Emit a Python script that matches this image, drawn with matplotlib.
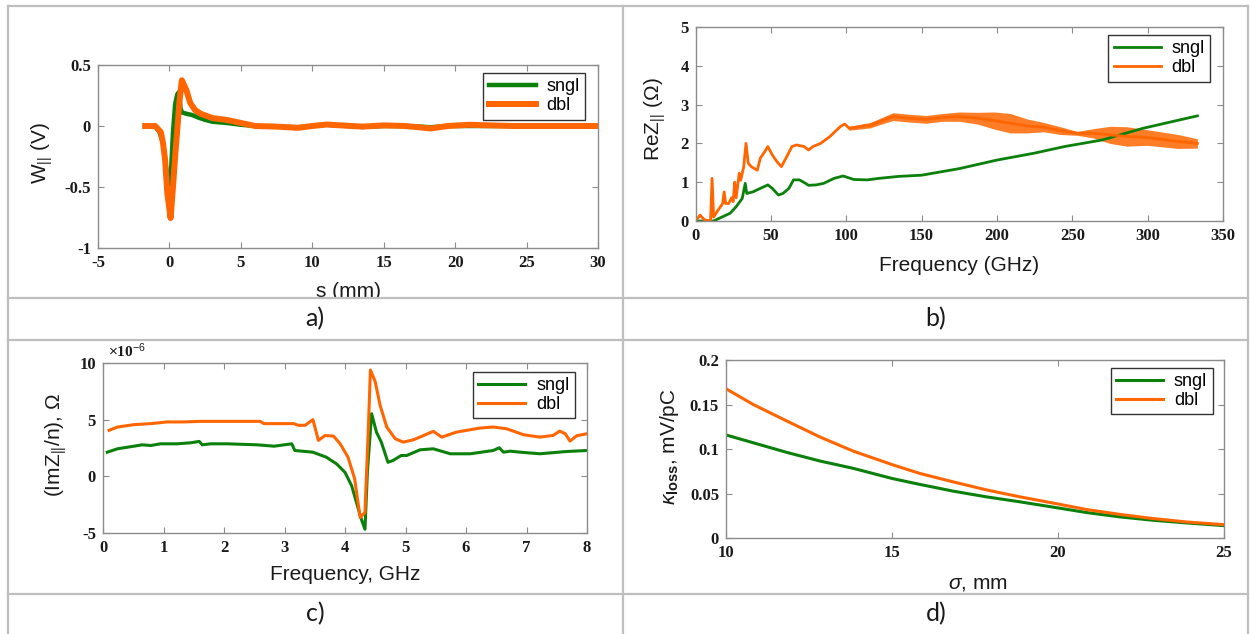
import numpy as np
import matplotlib
matplotlib.use('Agg')
import matplotlib.pyplot as plt
from matplotlib.lines import Line2D
from matplotlib.patches import Rectangle

plt.rcParams['axes.unicode_minus'] = False
plt.rcParams['font.family'] = 'Liberation Sans'
plt.rcParams['mathtext.fontset'] = 'custom'
plt.rcParams['mathtext.rm'] = 'Liberation Sans'
plt.rcParams['mathtext.it'] = 'Liberation Sans:italic'
plt.rcParams['mathtext.bf'] = 'Liberation Sans:bold'

GREEN = '#0b800b'
ORANGE = '#ff6600'

# ---------------- data ----------------
# a) wake potential W|| (V) vs s (mm)
a_s_sngl = [-1.7, -1.0, -0.7, -0.45, -0.3, -0.15, 0.0, 0.1, 0.25, 0.4, 0.55, 0.68, 0.78, 0.9,
            1.2, 1.6, 2.0, 2.5, 3.0, 4.0, 5.0, 6.0, 7.5, 9.0, 10.0, 11.0, 12.5, 13.5, 15.0,
            16.5, 18.3, 19.5, 21.0, 23.0, 27.0, 30.0]
a_w_sngl = [0, 0, -0.05, -0.14, -0.28, -0.42, -0.48, -0.4, -0.05, 0.18, 0.26, 0.28, 0.14, 0.11,
            0.1, 0.09, 0.07, 0.05, 0.035, 0.025, 0.01, 0.0, -0.005, -0.01, 0.0, 0.01, 0.0, -0.008,
            0.0, 0.0, -0.01, 0.0, 0.0, 0.0, 0.0, 0.0]
a_s_dbl = [-1.7, -1.0, -0.6, -0.45, -0.3, -0.15, 0.08, 0.25, 0.4, 0.57, 0.7, 0.87, 1.2, 1.45,
           1.8, 2.2, 3.0, 4.0, 4.6, 5.2, 6.0, 7.5, 9.0, 10.0, 11.0, 12.0, 13.5, 15.0, 16.5,
           18.3, 19.5, 21.0, 22.5, 24.0, 27.0, 30.0]
a_w_dbl = [0, 0, -0.05, -0.14, -0.28, -0.55, -0.755, -0.5, -0.25, 0.0, 0.2, 0.375, 0.29, 0.19,
           0.13, 0.1, 0.065, 0.05, 0.035, 0.02, 0.0, -0.005, -0.015, 0.0, 0.012, 0.005, -0.005,
           0.005, 0.0, -0.02, 0.0, 0.01, 0.005, 0.0, 0.0, 0.0]

# b) Re Z|| (Ohm) vs frequency (GHz)
b_f_sngl = [0, 12, 18, 23, 27, 31, 33, 34, 38, 43, 48, 51, 55, 58, 62, 65, 69, 73, 75, 80,
            85, 92, 98, 105, 114, 122, 135, 150, 175, 200, 225, 245, 270, 297, 315, 333]
b_z_sngl = [0, 0, 0.11, 0.2, 0.37, 0.58, 0.97, 0.71, 0.75, 0.84, 0.93, 0.84, 0.67, 0.71, 0.84,
            1.06, 1.06, 0.97, 0.92, 0.93, 0.97, 1.1, 1.16, 1.07, 1.06, 1.1, 1.15, 1.18, 1.35,
            1.57, 1.75, 1.92, 2.09, 2.39, 2.55, 2.71]
b_f_dbl = [0, 3, 6, 10, 11, 12, 15, 18, 19, 20, 22, 24, 25, 26, 27, 29, 30, 32, 33.5, 35,
           37, 41, 43, 46, 48, 51, 54, 57, 60, 64, 67, 72, 75, 78, 83, 89, 96, 99, 102, 109,
           116, 122, 131, 142, 153, 164, 175, 187, 198, 209, 220, 231, 242, 253, 264, 275,
           286, 300, 320, 333]
b_z_dbl = [0, 0.15, 0.03, 0, 1.1, 0.1, 0.28, 0.45, 0.75, 0.45, 0.45, 0.6, 0.5, 1.0, 0.6, 1.23,
           1.05, 1.4, 2.0, 1.49, 1.4, 1.31, 1.62, 1.79, 1.92, 1.7, 1.53, 1.4, 1.62, 1.92, 1.96,
           1.92, 1.83, 1.92, 2.0, 2.17, 2.43, 2.5, 2.39, 2.43, 2.47, 2.56, 2.69, 2.65, 2.62,
           2.67, 2.69, 2.65, 2.59, 2.52, 2.45, 2.42, 2.33, 2.26, 2.26, 2.22, 2.18, 2.15, 2.05,
           2.0]
# half peak-to-peak of the fast ripple on dbl, from f = 99 GHz on
b_ripple_dbl = [0.0, 0.05, 0.06, 0.07, 0.08, 0.1, 0.1, 0.1, 0.1, 0.12, 0.15, 0.22, 0.25, 0.18,
                0.12, 0.1, 0.05, 0.12, 0.22, 0.25, 0.2, 0.18, 0.12]
b_ripple_start = 37

# c) Im Z|| / n  (x1e-6 Ohm) vs frequency (GHz)
c_f_sngl = [0.07, 0.24, 0.51, 0.65, 0.79, 0.95, 1.23, 1.45, 1.59, 1.64, 1.78, 2.05, 2.55, 2.83,
            3.12, 3.17, 3.47, 3.69, 3.86, 4.0, 4.11, 4.19, 4.27, 4.33, 4.37, 4.44, 4.52, 4.6,
            4.71, 4.79, 4.93, 5.02, 5.24, 5.46, 5.74, 6.07, 6.45, 6.55, 6.62, 6.73, 6.9, 7.22,
            7.66, 8.0]
c_v_sngl = [2.13, 2.43, 2.66, 2.78, 2.72, 2.87, 2.87, 2.96, 3.08, 2.78, 2.87, 2.87, 2.78, 2.66,
            2.87, 2.28, 2.13, 1.69, 1.1, 0.35, -0.83, -2.31, -3.78, -4.67, 0.35, 5.53, 3.9,
            3.02, 1.24, 1.39, 1.84, 1.84, 2.34, 2.43, 1.99, 1.99, 2.28, 2.52, 2.13, 2.22, 2.13,
            1.99, 2.19, 2.28]
c_f_dbl = [0.1, 0.24, 0.51, 0.79, 1.06, 1.34, 1.61, 2.0, 2.6, 2.66, 3.15, 3.23, 3.34, 3.47,
           3.56, 3.67, 3.81, 3.92, 4.05, 4.16, 4.25, 4.33, 4.39, 4.42, 4.5, 4.58, 4.69, 4.83,
           4.96, 5.13, 5.46, 5.6, 5.84, 6.23, 6.45, 6.67, 6.95, 7.22, 7.44, 7.55, 7.64, 7.72,
           7.83, 8.0]
c_v_dbl = [4.06, 4.35, 4.56, 4.65, 4.8, 4.8, 4.85, 4.85, 4.85, 4.65, 4.65, 4.5, 4.5, 5.0, 3.17,
           3.6, 3.55, 2.87, 1.69, -0.23, -3.63, -3.19, 4.8, 9.38, 8.34, 6.27, 4.35, 3.32, 3.02,
           3.22, 3.97, 3.46, 3.9, 4.26, 4.35, 4.2, 3.67, 3.46, 3.61, 3.99, 3.76, 3.11, 3.58,
           3.76]

# d) loss factor (mV/pC) vs bunch length sigma (mm)
d_sigma = [10, 10.82, 11.83, 12.83, 13.84, 15, 15.84, 16.85, 17.85, 18.86, 20, 20.86, 21.87,
           22.87, 23.88, 25]
d_k_sngl = [0.1158, 0.1070, 0.0962, 0.0865, 0.0782, 0.0669, 0.0602, 0.0526, 0.0462, 0.0406,
            0.0338, 0.0286, 0.0237, 0.0199, 0.0169, 0.0139]
d_k_dbl = [0.1677, 0.1500, 0.1315, 0.1135, 0.0975, 0.0825, 0.0725, 0.0630, 0.0540, 0.0462,
           0.0382, 0.0320, 0.0265, 0.0218, 0.0180, 0.0150]

labels = ['sngl', 'dbl']
captions = ['a)', 'b)', 'c)', 'd)']

# ---------------- figure ----------------
W, H = 1250, 634
fig = plt.figure(figsize=(W / 100, H / 100), dpi=100)
fig.patch.set_facecolor('white')


def px_axes(l, r, t, b):
    return fig.add_axes([l / W, 1 - b / H, (r - l) / W, (b - t) / H])


SPINE = '#8c8c8c'
TICKFONT = dict(fontfamily='Liberation Serif', fontweight='bold', fontsize=12, color='#1a1a1a')


def style(ax, xlim, ylim, xticks, xtl, yticks, ytl):
    ax.set_xlim(xlim)
    ax.set_ylim(ylim)
    ax.set_xticks(xticks, xtl, **TICKFONT)
    ax.set_yticks(yticks, ytl, **TICKFONT)
    for sp in ax.spines.values():
        sp.set_color(SPINE)
        sp.set_linewidth(1.0)
    ax.tick_params(direction='in', top=True, right=True, length=4, width=0.8,
                   color=SPINE, pad=5)


def legend(ax, x, y):
    leg = ax.legend(loc='upper right', bbox_to_anchor=(x, y), borderaxespad=0,
                    frameon=True, fancybox=False, edgecolor='#333333', framealpha=1,
                    fontsize=13, handlelength=2.6, handletextpad=0.6, borderpad=0.3,
                    labelspacing=0.1)
    leg.get_frame().set_linewidth(1.0)


LBL = dict(fontsize=15, color='#1a1a1a')

# a)
ax = px_axes(98, 598, 65, 248)
ax.plot(a_s_sngl, a_w_sngl, color=GREEN, lw=3.2, label=labels[0], solid_joinstyle='round')
ax.plot(a_s_dbl, a_w_dbl, color=ORANGE, lw=4.3, label=labels[1], solid_joinstyle='round')
style(ax, (-5, 30), (-1, 0.5), [-5, 0, 5, 10, 15, 20, 25, 30],
      ['-5', '0', '5', '10', '15', '20', '25', '30'],
      [-1, -0.5, 0, 0.5], ['-1', '-0.5', '0', '0.5'])
ax.set_xlabel('s (mm)', va='center', **LBL)
ax.xaxis.set_label_coords(0.5, -0.24)
ax.set_ylabel(r'W$_{||}$ (V)', va='center', **LBL)
ax.yaxis.set_label_coords(-0.112, 0.52)
legend(ax, 0.974, 0.956)

# b)
ax = px_axes(695.5, 1223, 27, 221)
ax.plot(b_f_sngl, b_z_sngl, color=GREEN, lw=2.0, label=labels[0])
fb = np.array(b_f_dbl)
zb = np.array(b_z_dbl)
rb = np.array(b_ripple_dbl)
ax.fill_between(fb[b_ripple_start:], zb[b_ripple_start:] - rb, zb[b_ripple_start:] + rb,
                color=ORANGE, lw=0, alpha=0.85)
ax.plot(b_f_dbl, b_z_dbl, color=ORANGE, lw=2.0, label=labels[1])
style(ax, (0, 350), (0, 5), list(range(0, 351, 50)),
      [str(v) for v in range(0, 351, 50)], [0, 1, 2, 3, 4, 5], ['0', '1', '2', '3', '4', '5'])
ax.set_xlabel('Frequency (GHz)', va='center', **LBL)
ax.xaxis.set_label_coords(0.5, -0.227)
ax.set_ylabel(r'ReZ$_{||}$ ($\Omega$)', va='center', **LBL)
ax.yaxis.set_label_coords(-0.077, 0.526)
legend(ax, 0.9754, 0.9588)

# c)
ax = px_axes(103, 587, 363, 533)
ax.plot(c_f_sngl, c_v_sngl, color=GREEN, lw=2.2, label=labels[0])
ax.plot(c_f_dbl, c_v_dbl, color=ORANGE, lw=2.2, label=labels[1])
style(ax, (0, 8), (-5, 10), list(range(0, 9)), [str(v) for v in range(0, 9)],
      [-5, 0, 5, 10], ['-5', '0', '5', '10'])
ax.set_xlabel('Frequency, GHz', va='center', **LBL)
ax.xaxis.set_label_coords(0.5, -0.247)
ax.set_ylabel(r'(ImZ$_{||}$/n), $\Omega$', va='center', **LBL)
ax.yaxis.set_label_coords(-0.097, 0.518)
ax.text(0.01, 1.02, r'$\times$10$^{-6}$', transform=ax.transAxes, ha='left', va='bottom',
        fontsize=11, color='#1a1a1a', fontfamily='Liberation Serif', fontweight='bold')
legend(ax, 0.975, 0.949)

# d)
ax = px_axes(726, 1224, 360, 538)
ax.plot(d_sigma, d_k_sngl, color=GREEN, lw=2.2, label=labels[0])
ax.plot(d_sigma, d_k_dbl, color=ORANGE, lw=2.2, label=labels[1])
style(ax, (10, 25), (0, 0.2), [10, 15, 20, 25], ['10', '15', '20', '25'],
      [0, 0.05, 0.1, 0.15, 0.2], ['0', '0.05', '0.1', '0.15', '0.2'])
ax.set_xlabel(r'$\sigma$, mm', va='center', **LBL)
ax.xaxis.set_label_coords(0.506, -0.253)
ax.set_ylabel(r'$\kappa_{\mathbf{loss}}$, mV/pC', va='center', **LBL)
ax.yaxis.set_label_coords(-0.114, 0.511)
legend(ax, 0.977, 0.957)

# ---------------- table frame and captions ----------------
fig.add_artist(Rectangle((9 / W, 1 - 339 / H), 1238 / W, 40 / H, transform=fig.transFigure,
                         facecolor='white', edgecolor='none', zorder=5))
GRID = '#bfbfbf'


def hline(y, x0=8, x1=1248):
    fig.add_artist(Line2D([x0 / W, x1 / W], [1 - y / H, 1 - y / H], color=GRID, lw=1.6,
                          transform=fig.transFigure, zorder=6))


def vline(x, y0=6, y1=634):
    fig.add_artist(Line2D([x / W, x / W], [1 - y0 / H, 1 - y1 / H], color=GRID, lw=1.6,
                          transform=fig.transFigure, zorder=6))


for y in (6, 298, 340, 594):
    hline(y)
for x in (8, 623, 1248):
    vline(x)

cap_pos = [(315, 319), (936, 319), (315, 614), (936, 614)]
for (cx, cy), cap in zip(cap_pos, captions):
    fig.text(cx / W, 1 - cy / H, cap, ha='center', va='center', fontsize=18,
             fontfamily='Lato', color='#1a1a1a', zorder=7)

fig.savefig('out.png', dpi=100, facecolor='white')
